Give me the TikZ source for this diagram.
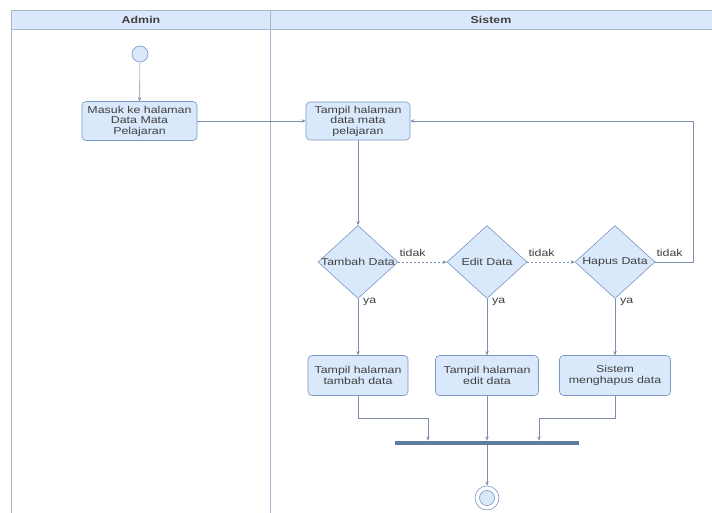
\documentclass[tikz,border=0pt]{standalone}
\usepackage{fontspec}
\setmainfont{Liberation Sans}
\newfontfamily\diagfont[FakeStretch=1.24]{Liberation Sans}
\usetikzlibrary{shapes.geometric,arrows.meta}

\definecolor{nodefill}{HTML}{DAE8FC}
\definecolor{nodeline}{HTML}{7A96C2}
\definecolor{laneline}{HTML}{A9B8CF}
\definecolor{flow}{HTML}{7D8FAA}
\definecolor{barfill}{HTML}{5F7B9E}
\definecolor{txt}{HTML}{404040}

\begin{document}
\begin{tikzpicture}[x=1pt,y=-1pt,
  every node/.style={font=\diagfont\fontsize{10}{10.5}\selectfont, text=txt},
  act/.style={draw=nodeline, fill=nodefill, rounded corners=4pt, align=center,
              inner sep=0pt, line width=0.6pt},
  dec/.style={draw=nodeline, fill=nodefill, diamond, minimum width=80pt,
              minimum height=73pt, inner sep=0pt, line width=0.6pt},
  flowline/.style={draw=flow, line width=0.6pt, -{Stealth[length=4pt,width=3.5pt]}},
  noflow/.style={flowline, dash pattern=on 2pt off 2pt},
  lbl/.style={inner sep=1pt},
  lanehead/.style={font=\diagfont\bfseries\fontsize{10}{10.5}\selectfont}
]
\useasboundingbox (0,0) rectangle (712,513);

% swimlanes
\fill[nodefill] (11,10) rectangle (712,29);
\draw[laneline, line width=0.8pt] (712,10) -- (11,10) -- (11,513);
\draw[laneline, line width=0.8pt] (11,29) -- (712,29);
\draw[laneline, line width=0.8pt] (270.7,10) -- (270.7,513);
\node[lanehead] (hadmin) at (141,19.5) {Admin};
\node[lanehead] (hsistem) at (491,19.5) {Sistem};

% start
\node[circle, draw=nodeline, fill=nodefill, minimum size=16pt, inner sep=0pt,
      line width=0.6pt] (start) at (140,54) {};

% actions
\node[act, minimum width=115pt, minimum height=39pt] (masuk) at (139.5,121)
  {Masuk ke halaman\\Data Mata\\Pelajaran};
\node[act, minimum width=104pt, minimum height=38pt] (tampil) at (358,121)
  {Tampil halaman\\data mata\\pelajaran};

% decisions
\node[dec] (d1) at (358,262) {\makebox[0pt]{Tambah Data}};
\node[dec] (d2) at (487,262) {\makebox[0pt]{Edit Data}};
\node[dec] (d3) at (615,262) {\makebox[0pt]{Hapus Data}};

% result actions
\node[act, minimum width=100pt, minimum height=40pt] (b1) at (358,375.5)
  {Tampil halaman\\tambah data};
\node[act, minimum width=103pt, minimum height=40pt] (b2) at (487,375.5)
  {Tampil halaman\\edit data};
\node[act, minimum width=111pt, minimum height=40pt] (b3) at (615,375.5)
  {Sistem\\menghapus data};

% join bar
\node[fill=barfill, minimum width=184pt, minimum height=4.5pt, inner sep=0pt] (bar) at (487,443) {};

% end
\node[circle, draw=nodeline, fill=white, minimum size=24pt, inner sep=0pt,
      line width=0.6pt] (endc) at (487,498) {};
\node[circle, draw=nodeline, fill=nodefill, minimum size=15pt, inner sep=0pt,
      line width=0.6pt] (endin) at (487,498) {};

% flows
\draw[flowline] (start) -- (masuk);
\draw[flowline] (masuk) -- (tampil);
\draw[flowline] (tampil) -- (d1);
\draw[noflow] (d1.east) -- (d2.west);
\draw[noflow] (d2.east) -- (d3.west);
\coordinate (loop) at (693,121);
\draw[flowline] (d3.east) -| (loop) -- (tampil.east);
\draw[flowline] (d1.south) -- (b1.north);
\draw[flowline] (d2.south) -- (b2.north);
\draw[flowline] (d3.south) -- (b3.north);

\coordinate (j1) at (428,418);
\coordinate (j3) at (539,418);
\draw[flowline] (b1.south) |- (j1) -- (j1 |- bar.north);
\draw[flowline] (b2.south) -- (bar.north);
\draw[flowline] (b3.south) |- (j3) -- (j3 |- bar.north);
\draw[flowline] (bar.south) -- (endc.north);

% guard labels
\node[lbl, anchor=base west] (n1) at ([yshift=6pt]d1.east) {tidak};
\node[lbl, anchor=base west] (n2) at ([yshift=6pt]d2.east) {tidak};
\node[lbl, anchor=base west] (n3) at ([yshift=6pt]d3.east) {tidak};
\node[lbl, anchor=west] (y1) at ([xshift=4pt,yshift=-3pt]d1.south) {ya};
\node[lbl, anchor=west] (y2) at ([xshift=4pt,yshift=-3pt]d2.south) {ya};
\node[lbl, anchor=west] (y3) at ([xshift=4pt,yshift=-3pt]d3.south) {ya};
\end{tikzpicture}
\end{document}
